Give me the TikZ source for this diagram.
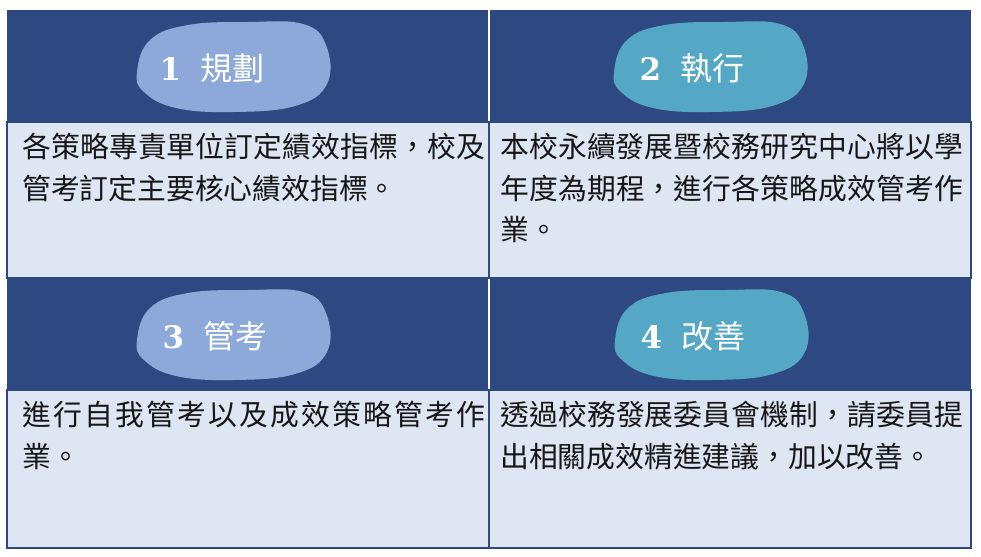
\documentclass[tikz,border=0pt]{standalone}
\usepackage{fontspec}
\usetikzlibrary{positioning}
\newfontfamily\cjk{Noto Sans CJK TC}
\newfontfamily\numfont{DejaVu Serif}
\XeTeXlinebreaklocale "zh"
\XeTeXlinebreakskip=0pt plus 3pt
\tolerance=9000
\definecolor{headblue}{RGB}{46,73,130}
\definecolor{bodyblue}{RGB}{222,230,243}
\definecolor{blobA}{RGB}{140,169,217}
\definecolor{blobB}{RGB}{85,168,197}
\definecolor{ink}{RGB}{22,22,22}

\begin{document}
\begin{tikzpicture}[x=1pt,y=1pt]
    \tikzstyle{cell}=[rectangle,inner sep=0pt,outer sep=0pt,anchor=north west,minimum width=482pt]
    \tikzstyle{head cell}=[cell,fill=headblue,minimum height=112pt]
    \tikzstyle{body cell}=[cell,fill=bodyblue,draw=headblue,line width=2.5pt]
    \tikzstyle{title}=[text=white,inner sep=0pt]
    \tikzstyle{annot}=[inner sep=0pt,text width=463pt,align=justify,text=ink,font=\cjk\fontsize{28.8}{41.5}\selectfont]

    \useasboundingbox (0,0) rectangle (981,-556);

    % Draw the header cells
    \foreach \name / \x / \y in {1/7/10,2/489/10,3/7/278,4/489/278}
        \node[head cell] (H-\name) at (\x,-\y) {};

    % White rule between the two header cells of a row
    \foreach \name in {1,3}
        \draw[white,line width=2.5pt] (H-\name.north east) -- (H-\name.south east);

    % Draw the body cells
    \foreach \name / \x / \y / \h in {1/7/122/156,2/489/122/156,3/7/390/158,4/489/390/158}
        \node[body cell,minimum height=\h pt] (B-\name) at (\x,-\y) {};

    % Draw the blobs behind the titles
    \foreach \name / \x / \y / \col in {1/233/67/blobA,2/710/67/blobB,3/233/335/blobA,4/711/335/blobB}
        \fill[\col,shift={(\x,-\y)}] plot[smooth cycle,tension=0.7] coordinates {(-96,-5) (-83,27) (-45,42) (15,45) (70,43) (93,22) (94,-17) (62,-39) (0,-45) (-57,-41) (-89,-25)};

    % Titles: number and word
    \foreach \name / \x / \y / \word in {1/212/68/規劃,2/692/68/執行,3/215/336/管考,4/693/336/改善}
        \node[title] (L-\name) at (\x,-\y) {{\numfont\bfseries\fontsize{31}{31}\selectfont\name}\hspace{19pt}{\cjk\fontsize{32}{32}\selectfont\word}};

    % Body texts
    \node[annot,below right=11pt and 15pt of B-1.north west] (T-1) {各策略專責單位訂定績效指標，校及管考訂定主要核心績效指標。};
    \node[annot,below right=11pt and 11pt of B-2.north west] (T-2) {本校永續發展暨校務研究中心將以學年度為期程，進行各策略成效管考作業。};
    \node[annot,below right=11pt and 15pt of B-3.north west] (T-3) {進行自我管考以及成效策略管考作業。};
    \node[annot,below right=11pt and 11pt of B-4.north west] (T-4) {透過校務發展委員會機制，請委員提出相關成效精進建議，加以改善。};
\end{tikzpicture}
\end{document}
